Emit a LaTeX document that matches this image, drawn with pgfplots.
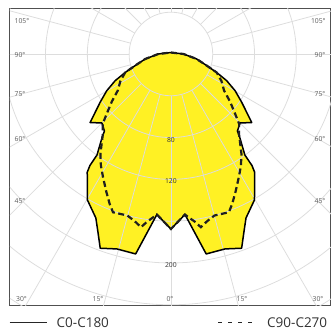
\documentclass[border=0pt]{standalone}
\usepackage{fontspec}
\setmainfont{Open Sans}
\usepackage{pgfplots}
\usepackage{pgfplotstable}
\pgfplotsset{compat=1.18}
\definecolor{lumyellow}{RGB}{255,241,36}
\definecolor{gridc}{RGB}{221,221,221}
\definecolor{framec}{RGB}{80,80,80}
\definecolor{labc}{RGB}{90,90,90}
\definecolor{txtc}{RGB}{50,50,50}

\pgfplotstableread{
g I
180 1.4
90 12.0
79 25.1
72 36.0
68 47.2
64.4 59.2
60.2 70.8
55.7 82.0
52.4 91.5
49.7 101.4
45.0 93.4
40.8 97.4
39.4 104.0
36.2 119.8
36.0 131.9
35.3 138.6
29.8 160.9
24.6 172.6
22.3 184.1
20.0 197.8
15.5 193.6
10.0 194.3
5.0 154.2
0.0 167.5
-5.0 154.2
-10.0 194.3
-15.5 193.6
-20.0 197.8
-22.3 184.1
-24.6 172.6
-29.8 160.9
-35.3 138.6
-36.0 131.9
-36.2 119.8
-39.4 104.0
-40.8 97.4
-45.0 93.4
-49.7 101.4
-52.4 91.5
-55.7 82.0
-60.2 70.8
-64.4 59.2
-68 47.2
-72 36.0
-79 25.1
-90 12.0
-180 1.4
}\solidtab

\pgfplotstableread{
g I
180 1.4
90 12.0
79 25.1
72 36.0
68 47.2
61.9 54.8
55.5 61.7
51.2 72.5
47.9 81.3
44.3 93.5
40.4 100.5
35.2 117.1
32.1 126.1
28.9 134.5
25.2 145.4
22.2 155.1
20.1 161.3
15.1 160.1
12.3 163.6
9.8 168.2
8.0 161.8
5.8 156.3
5.0 154.2
0.0 167.5
-5.0 154.2
-5.8 156.3
-8.0 161.8
-9.8 168.2
-12.3 163.6
-15.1 160.1
-20.1 161.3
-22.2 155.1
-25.2 145.4
-28.9 134.5
-32.1 126.1
-35.2 117.1
-40.4 100.5
-44.3 93.5
-47.9 81.3
-51.2 72.5
-55.5 61.7
-61.9 54.8
-68 47.2
-72 36.0
-79 25.1
-90 12.0
-180 1.4
}\dashtab

\begin{document}
\begin{tikzpicture}[x=1pt,y=1pt]
\useasboundingbox (0,0) rectangle (333,329);
\begin{axis}[
  at={(9.5,22.5)}, anchor=south west,
  scale only axis, width=321pt, height=296.5pt,
  xmin=-154.07, xmax=153.11, ymin=-240.67, ymax=43.06,
  xtick=\empty, ytick=\empty,
  axis line style={draw=framec, line width=1pt},
  clip=true,
]
\addplot[draw=none, fill=lumyellow] table[x expr={\thisrow{I}*sin(\thisrow{g})}, y expr={-\thisrow{I}*cos(\thisrow{g})}] {\solidtab};
\pgfplotsinvokeforeach{40,80,120,160,200,240,280,320}{
  \draw[gridc, line width=0.8pt] (axis cs:0,0) circle[radius=#1];
}
\pgfplotsinvokeforeach{0,15,...,345}{
  \draw[gridc, line width=0.8pt] (axis cs:{40*cos(#1)},{40*sin(#1)}) -- (axis cs:{420*cos(#1)},{420*sin(#1)});
}
\addplot[black, line width=1.5pt, line join=round] table[x expr={\thisrow{I}*sin(\thisrow{g})}, y expr={-\thisrow{I}*cos(\thisrow{g})}] {\solidtab};
\addplot[black!88, line width=2.2pt, dash pattern=on 6pt off 3.5pt] table[x expr={\thisrow{I}*sin(\thisrow{g})}, y expr={-\thisrow{I}*cos(\thisrow{g})}] {\dashtab};
\node[text=txtc, font=\fontsize{6.8}{8}\selectfont, inner sep=0pt, yshift=-2pt] at (axis cs:0,-80) {80};
\node[text=txtc, font=\fontsize{6.8}{8}\selectfont, inner sep=0pt, yshift=-2pt] at (axis cs:0,-120) {120};
\node[text=txtc, font=\fontsize{6.8}{8}\selectfont, inner sep=0pt, yshift=-2pt] at (axis cs:0,-200) {200};
\end{axis}
\begin{scope}[every node/.style={text=labc, font=\fontsize{6.8}{8}\selectfont, inner sep=0pt}]
\node[anchor=west] at (14.5,308) {105°};
\node[anchor=west] at (14.5,274) {90°};
\node[anchor=west] at (14.5,234.7) {75°};
\node[anchor=west] at (14.5,189.7) {60°};
\node[anchor=west] at (14.5,128.3) {45°};
\node[anchor=east] at (325.8,308) {105°};
\node[anchor=east] at (325.5,274) {90°};
\node[anchor=east] at (325.5,234.7) {75°};
\node[anchor=east] at (325.5,189.7) {60°};
\node[anchor=east] at (325.5,128.3) {45°};
\node at (21.5,29.7) {30°};
\node at (98,29.7) {15°};
\node at (170,29.7) {0°};
\node at (242,29.7) {15°};
\node at (318,29.7) {30°};
\end{scope}
\draw[black!85, line width=1.2pt] (9.5,6.5) -- (47,6.5);
\node[anchor=base west, inner sep=0pt, text=txtc, font=\fontsize{13.5}{16}\selectfont] at (56.5,1.8) {C0-C180};
\draw[black!85, line width=1.4pt, dash pattern=on 4.4pt off 5.6pt] (218,6.5) -- (256,6.5);
\node[anchor=base west, inner sep=0pt, text=txtc, font=\fontsize{13.5}{16}\selectfont] at (267,1.8) {C90-C270};
\end{tikzpicture}
\end{document}
